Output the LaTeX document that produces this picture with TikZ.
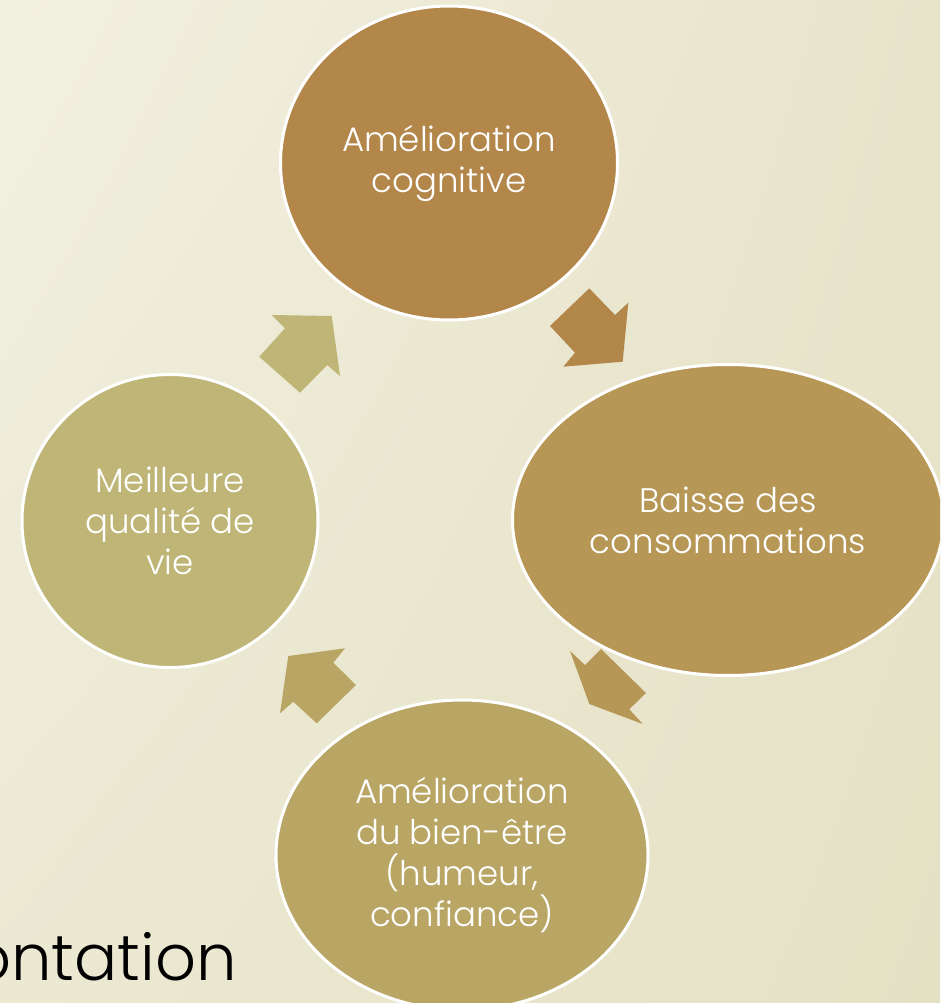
\documentclass[tikz,border=0pt]{standalone}
\usepackage{fontspec}
\setmainfont{Poppins}[UprightFont={* Light}]
\usetikzlibrary{shapes.geometric,shadings}
\definecolor{bgUL}{RGB}{242,240,225}
\definecolor{bgUR}{RGB}{232,228,202}
\definecolor{bgLL}{RGB}{235,233,210}
\definecolor{bgLR}{RGB}{229,225,197}
\definecolor{cTop}{RGB}{179,134,74}
\definecolor{cRight}{RGB}{183,151,86}
\definecolor{cBottom}{RGB}{185,165,100}
\definecolor{cLeft}{RGB}{190,181,118}
\begin{document}
\begin{tikzpicture}[x=1pt,y=-1pt,
  bubble/.style={ellipse, draw=white, line width=3pt, inner sep=0pt, outer sep=0pt,
    text=white, align=center, font=\fontsize{34}{41}\selectfont},
  blockarrow/.style={draw=none}]
\useasboundingbox (0,0) rectangle (940,1003);
\clip (0,0) rectangle (940,1003);
\shade[upper left=bgUL, upper right=bgUR, lower left=bgLL, lower right=bgLR]
  (0,0) rectangle (940,1003);

% circles
\node[bubble, fill=cTop, minimum width=337pt, minimum height=314pt] (top) at (449,163)
  {Amélioration\\cognitive};
\node[bubble, fill=cRight, minimum width=431pt, minimum height=311pt] (right) at (728,520)
  {Baisse des\\consommations};
\node[bubble, fill=cBottom, minimum width=372pt, minimum height=310pt] (bottom) at (462,855)
  {Amélioration\\du bien-être\\(humeur,\\confiance)};
\node[bubble, fill=cLeft, minimum width=296pt, minimum height=293pt] (left) at (170,521)
  {Meilleure\\qualité de\\vie};

% block arrows
\fill[blockarrow, cTop] (589.3,288.3) -- (615,315) -- (628.3,302.7) -- (622.7,361.7)
  -- (563.3,366.7) -- (575,352.7) -- (550,326) -- cycle;
\fill[blockarrow, cRight] (570,651) -- (585,665) -- (601,649) -- (646,693)
  -- (629.3,709.3) -- (642.7,724) -- (589.3,704) -- cycle;
\fill[blockarrow, cBottom] (288.3,656) -- (345,648.3) -- (333.3,662.7) -- (356,685)
  -- (316.7,723.3) -- (293.3,701.7) -- (280,713.3) -- cycle;
\fill[blockarrow, cLeft] (271.7,315) -- (331.7,316) -- (340,376) -- (327.3,365)
  -- (300,392.7) -- (259.3,356.7) -- (285,328.3) -- cycle;

% cut-off title text
\node[anchor=base east, inner sep=0pt, text=black, font=\fontsize{64}{70}\selectfont]
  (title) at (237,980) {ontation};
\end{tikzpicture}
\end{document}
